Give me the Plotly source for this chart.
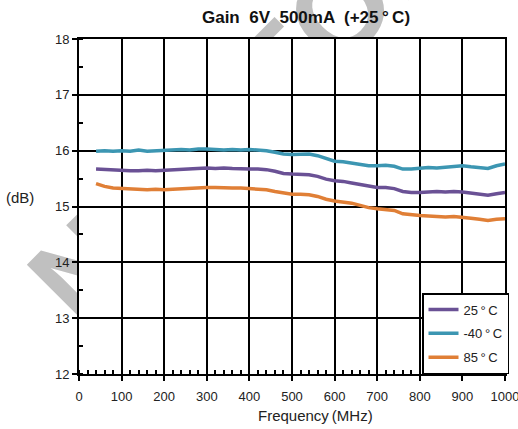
import plotly.graph_objects as go

freq = [40, 60, 80, 100, 120, 140, 160, 180, 200, 220, 240, 260, 280, 300, 320, 340, 360, 380,
        400, 420, 440, 460, 480, 500, 520, 540, 560, 580, 600, 620, 640, 660, 680, 700, 720, 740,
        760, 780, 800, 820, 840, 860, 880, 900, 920, 940, 960, 980, 1000]

gain_25 = [15.67, 15.66, 15.65, 15.65, 15.64, 15.64, 15.65, 15.64, 15.65, 15.66, 15.66, 15.67,
           15.68, 15.69, 15.68, 15.69, 15.68, 15.67, 15.67, 15.67, 15.66, 15.63, 15.59, 15.58,
           15.58, 15.57, 15.54, 15.49, 15.46, 15.45, 15.42, 15.39, 15.36, 15.34, 15.34, 15.32,
           15.27, 15.25, 15.25, 15.26, 15.27, 15.26, 15.27, 15.26, 15.24, 15.21, 15.20, 15.23, 15.25]

gain_m40 = [15.99, 16.00, 15.99, 16.00, 15.99, 16.01, 15.99, 16.00, 16.00, 16.01, 16.02, 16.01,
            16.03, 16.03, 16.02, 16.01, 16.02, 16.01, 16.02, 16.01, 16.00, 15.97, 15.94, 15.93,
            15.94, 15.94, 15.91, 15.86, 15.81, 15.80, 15.78, 15.76, 15.73, 15.73, 15.74, 15.72,
            15.67, 15.67, 15.69, 15.70, 15.69, 15.70, 15.72, 15.73, 15.71, 15.69, 15.68, 15.73, 15.76]

gain_85 = [15.41, 15.36, 15.33, 15.32, 15.31, 15.31, 15.30, 15.31, 15.30, 15.31, 15.32, 15.33,
           15.34, 15.34, 15.34, 15.33, 15.33, 15.33, 15.32, 15.31, 15.30, 15.27, 15.24, 15.22,
           15.22, 15.21, 15.18, 15.13, 15.10, 15.08, 15.06, 15.02, 14.98, 14.96, 14.95, 14.93,
           14.87, 14.85, 14.84, 14.83, 14.82, 14.81, 14.82, 14.81, 14.79, 14.77, 14.75, 14.77, 14.78]

series_names = ["25\u2009\u00b0\u2009C", "-40\u2009\u00b0\u2009C", "85\u2009\u00b0\u2009C"]
series_colors = ["#6a5195", "#3c96b2", "#e07f36"]
x_ticks = [0, 100, 200, 300, 400, 500, 600, 700, 800, 900, 1000]
y_ticks = [12, 13, 14, 15, 16, 17, 18]

FONT = "Liberation Sans"
L, R, T, B = 79, 13, 39, 55
PW, PH = 518 - L - R, 429 - T - B


def px(x):
    return (x - L) / PW


def py(y):
    return (429 - B - y) / PH


fig = go.Figure()
# dummy full-size subplot so the main plot background covers the watermark
fig.add_trace(go.Scatter(x=[], y=[], xaxis="x", yaxis="y", showlegend=False, hoverinfo="skip"))

for i, (name, vals, col) in enumerate(zip(series_names, [gain_25, gain_m40, gain_85], series_colors)):
    fig.add_trace(go.Scatter(
        x=freq, y=vals, mode="lines", name=name, xaxis="x2", yaxis="y2",
        line=dict(color=col, width=3.5), legendgroup=f"g{i}",
    ))

axis_common = dict(
    showline=True, linecolor="black", linewidth=2, mirror=True,
    showgrid=True, gridcolor="black", gridwidth=1.5,
    ticks="outside", ticklen=5, tickwidth=1.5, tickcolor="black",
    tickfont=dict(family=FONT, size=13, color="#222"),
    zeroline=False, ticklabeloverflow="allow", automargin=False,
)

fig.update_layout(
    template="none",
    width=518, height=429,
    margin=dict(l=L, r=R, t=T, b=B, autoexpand=False),
    paper_bgcolor="white", plot_bgcolor="white",
    xaxis=dict(visible=False, range=[0, 1], domain=[0, 1], automargin=False),
    yaxis=dict(visible=False, range=[0, 1], domain=[0, 1], automargin=False),
    xaxis2=dict(range=[0, 1000], tickvals=x_ticks, domain=[0, 1], anchor="y2",
                minor=dict(dtick=20, ticks="inside", ticklen=4, tickwidth=1.5, tickcolor="black", showgrid=False),
                ticklabelstandoff=4, **axis_common),
    yaxis2=dict(range=[12, 18], tickvals=y_ticks, domain=[0, 1], anchor="x2",
                minor=dict(dtick=0.5, ticks="inside", ticklen=4, tickwidth=1.5, tickcolor="black", showgrid=False),
                **axis_common),
    title=dict(text="<b>Gain  6V  500mA  (+25\u2009\u00b0\u2009C)</b>", x=306/518, xref="container", xanchor="center",
               y=1 - 17.5/429, yref="container", yanchor="middle",
               font=dict(family=FONT, size=17, color="#111")),
    legend=dict(x=px(422), y=py(293), xanchor="left", yanchor="top",
                bgcolor="white", bordercolor="black", borderwidth=1.5,
                font=dict(family=FONT, size=13, color="#222"),
                traceorder="grouped", tracegroupgap=4, itemwidth=30),
    showlegend=True,
)

fig.add_annotation(text="(dB)", x=px(20), y=py(197), xref="paper", yref="paper",
                   xanchor="center", yanchor="middle",
                   showarrow=False, font=dict(family=FONT, size=15, color="#222"))
fig.add_annotation(text="Frequency\u2009(MHz)", x=px(315), y=py(415), xref="paper", yref="paper",
                   xanchor="center", yanchor="middle",
                   showarrow=False, font=dict(family=FONT, size=15, color="#222"))

# watermark, drawn beneath the main plot background
cx, cy = 522.5, -188.3
fig.add_shape(type="rect", xref="paper", yref="paper", layer="below",
              x0=px(cx - 2), x1=px(cx + 2), y0=py(cy + 2), y1=py(cy - 2),
              line=dict(width=0), fillcolor="rgba(0,0,0,0)",
              label=dict(text="<b>NOT FOR NEW DESIGN</b>", textangle=-45, textposition="middle center",
                         font=dict(family=FONT, size=121, color="#c0c0c0")))

fig.write_html("out.html")
